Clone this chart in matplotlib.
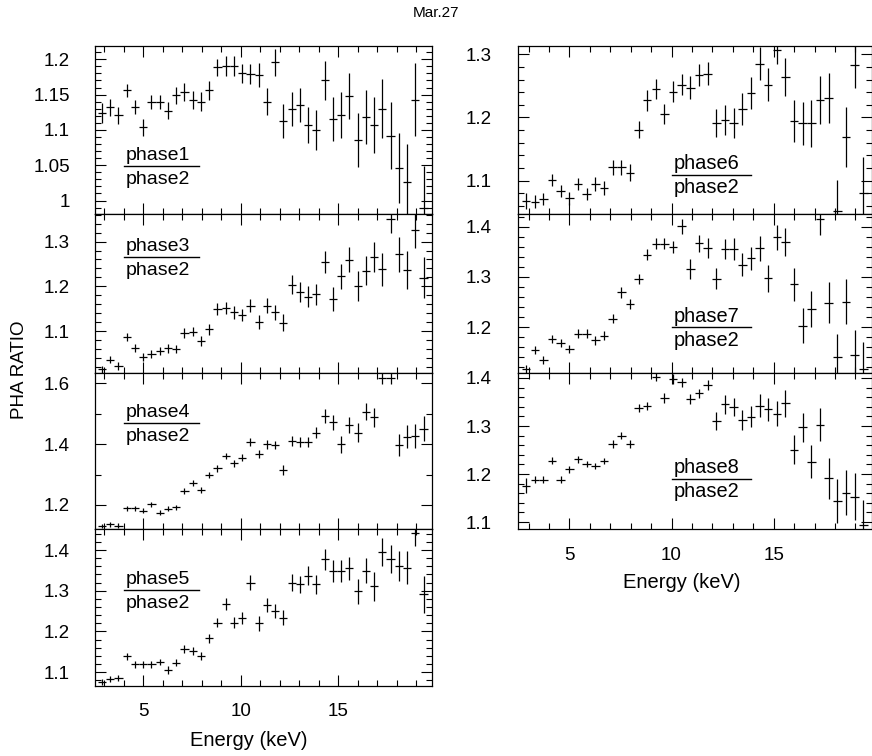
import matplotlib
matplotlib.use("Agg")
import matplotlib.pyplot as plt
from matplotlib.ticker import MultipleLocator, FuncFormatter
from matplotlib.lines import Line2D

plt.rcParams['font.family'] = ['Liberation Sans', 'DejaVu Sans']

# ---------------- data ----------------
energy = [2.885, 3.308, 3.731, 4.154, 4.577, 5.000, 5.423, 5.846, 6.269, 6.692,
          7.115, 7.538, 7.961, 8.384, 8.807, 9.230, 9.653, 10.076, 10.499, 10.922,
          11.345, 11.768, 12.191, 12.614, 13.037, 13.460, 13.883, 14.306, 14.729, 15.152,
          15.575, 15.998, 16.421, 16.844, 17.267, 17.690, 18.113, 18.536, 18.959, 19.382]
energy_halfwidth = 0.21

ratio1 = [1.124, 1.132, 1.121, 1.156, 1.133, 1.104, 1.139, 1.140, 1.127, 1.149,
          1.154, 1.142, 1.140, 1.156, 1.189, 1.191, 1.191, 1.180, 1.179, 1.178,
          1.140, 1.196, 1.112, 1.130, 1.135, 1.107, 1.100, 1.170, 1.115, 1.121,
          1.148, 1.086, 1.118, 1.107, 1.130, 1.092, 1.046, 1.026, 1.143, 0.989]
err1 = [0.014, 0.012, 0.012, 0.009, 0.010, 0.012, 0.010, 0.010, 0.012, 0.012,
        0.013, 0.013, 0.013, 0.013, 0.012, 0.014, 0.014, 0.014, 0.014, 0.017,
        0.019, 0.019, 0.024, 0.024, 0.024, 0.026, 0.028, 0.028, 0.031, 0.033,
        0.033, 0.038, 0.038, 0.040, 0.042, 0.047, 0.050, 0.054, 0.052, 0.060]

ratio3 = [1.015, 1.036, 1.022, 1.086, 1.063, 1.043, 1.048, 1.056, 1.062, 1.060,
          1.095, 1.099, 1.078, 1.104, 1.149, 1.151, 1.142, 1.136, 1.157, 1.121,
          1.157, 1.142, 1.119, 1.204, 1.188, 1.177, 1.182, 1.255, 1.172, 1.222,
          1.259, 1.201, 1.235, 1.265, 1.238, 1.350, 1.272, 1.236, 1.326, 1.219]
err3 = [0.008, 0.008, 0.008, 0.009, 0.009, 0.009, 0.009, 0.009, 0.010, 0.010,
        0.011, 0.011, 0.011, 0.012, 0.013, 0.013, 0.014, 0.014, 0.015, 0.016,
        0.016, 0.017, 0.019, 0.022, 0.022, 0.023, 0.023, 0.025, 0.026, 0.028,
        0.028, 0.034, 0.033, 0.033, 0.037, 0.030, 0.039, 0.043, 0.041, 0.046]

ratio4 = [1.131, 1.136, 1.132, 1.189, 1.189, 1.181, 1.202, 1.175, 1.187, 1.192,
          1.246, 1.271, 1.249, 1.299, 1.321, 1.361, 1.337, 1.356, 1.408, 1.367,
          1.399, 1.397, 1.315, 1.410, 1.408, 1.408, 1.438, 1.493, 1.472, 1.399,
          1.463, 1.438, 1.507, 1.488, 1.619, 1.619, 1.397, 1.425, 1.427, 1.450]
err4 = [0.008, 0.008, 0.008, 0.008, 0.008, 0.008, 0.008, 0.008, 0.008, 0.009,
        0.009, 0.010, 0.010, 0.010, 0.011, 0.011, 0.012, 0.012, 0.013, 0.013,
        0.014, 0.014, 0.015, 0.016, 0.016, 0.017, 0.019, 0.024, 0.024, 0.027,
        0.027, 0.030, 0.027, 0.030, 0.022, 0.022, 0.036, 0.038, 0.038, 0.041]

ratio5 = [1.076, 1.083, 1.086, 1.139, 1.119, 1.119, 1.119, 1.125, 1.105, 1.123,
          1.157, 1.152, 1.139, 1.183, 1.222, 1.267, 1.222, 1.234, 1.320, 1.220,
          1.265, 1.250, 1.234, 1.320, 1.316, 1.337, 1.316, 1.377, 1.349, 1.349,
          1.355, 1.299, 1.349, 1.311, 1.396, 1.378, 1.361, 1.357, 1.441, 1.291]
err5 = [0.007, 0.007, 0.007, 0.008, 0.008, 0.008, 0.008, 0.008, 0.009, 0.009,
        0.010, 0.010, 0.010, 0.011, 0.012, 0.014, 0.014, 0.015, 0.018, 0.018,
        0.018, 0.018, 0.019, 0.021, 0.021, 0.023, 0.023, 0.025, 0.027, 0.027,
        0.029, 0.031, 0.031, 0.035, 0.034, 0.035, 0.037, 0.041, 0.030, 0.045]

ratio6 = [1.068, 1.067, 1.071, 1.101, 1.084, 1.072, 1.095, 1.079, 1.095, 1.088,
          1.121, 1.121, 1.113, 1.181, 1.227, 1.245, 1.205, 1.241, 1.252, 1.247,
          1.267, 1.269, 1.191, 1.196, 1.191, 1.213, 1.239, 1.285, 1.252, 1.306,
          1.264, 1.194, 1.191, 1.191, 1.228, 1.231, 1.052, 1.169, 1.283, 1.081]
err6 = [0.012, 0.010, 0.010, 0.010, 0.010, 0.010, 0.010, 0.010, 0.011, 0.011,
        0.012, 0.012, 0.013, 0.014, 0.016, 0.016, 0.016, 0.017, 0.017, 0.018,
        0.017, 0.018, 0.022, 0.023, 0.024, 0.025, 0.025, 0.026, 0.026, 0.021,
        0.030, 0.033, 0.034, 0.037, 0.038, 0.040, 0.049, 0.047, 0.037, 0.057]

ratio7 = [1.116, 1.154, 1.134, 1.177, 1.169, 1.156, 1.187, 1.187, 1.174, 1.183,
          1.217, 1.269, 1.247, 1.296, 1.344, 1.366, 1.366, 1.359, 1.401, 1.315,
          1.367, 1.357, 1.296, 1.355, 1.355, 1.324, 1.337, 1.357, 1.297, 1.379,
          1.369, 1.285, 1.203, 1.236, 1.415, 1.249, 1.141, 1.251, 1.145, 1.117]
err7 = [0.008, 0.008, 0.008, 0.008, 0.008, 0.008, 0.009, 0.009, 0.009, 0.009,
        0.009, 0.010, 0.010, 0.010, 0.011, 0.011, 0.011, 0.012, 0.015, 0.020,
        0.017, 0.020, 0.021, 0.020, 0.022, 0.023, 0.023, 0.025, 0.027, 0.025,
        0.028, 0.032, 0.035, 0.036, 0.031, 0.041, 0.045, 0.044, 0.050, 0.053]

ratio8 = [1.176, 1.188, 1.188, 1.228, 1.188, 1.210, 1.231, 1.221, 1.217, 1.227,
          1.262, 1.280, 1.263, 1.338, 1.342, 1.403, 1.358, 1.398, 1.391, 1.356,
          1.368, 1.385, 1.310, 1.345, 1.340, 1.313, 1.319, 1.342, 1.335, 1.326,
          1.347, 1.251, 1.297, 1.226, 1.303, 1.191, 1.144, 1.161, 1.153, 1.094]
err8 = [0.015, 0.007, 0.007, 0.007, 0.007, 0.007, 0.007, 0.007, 0.007, 0.007,
        0.008, 0.008, 0.008, 0.008, 0.008, 0.009, 0.010, 0.010, 0.010, 0.010,
        0.010, 0.011, 0.019, 0.019, 0.019, 0.021, 0.022, 0.024, 0.024, 0.026,
        0.028, 0.031, 0.031, 0.035, 0.035, 0.042, 0.045, 0.047, 0.049, 0.052]

numerators = ["phase1", "phase3", "phase4", "phase5", "phase6", "phase7", "phase8"]
denominator = "phase2"
title = "Mar.27"
xlabel = "Energy (keV)"
ylabel = "PHA RATIO"

# ---------------- layout ----------------
W, H = 872, 756
fig = plt.figure(figsize=(W / 100, H / 100), dpi=100)

rows = [(46, 214.3), (214.3, 372.7), (372.7, 529.3), (529.3, 686.0)]
cols = {"L": (94.5, 432.3), "R": (518.3, 872.4)}

# (ratio, err, col, row, ylim, major, minor, label-line y px)
panels = [
    (ratio1, err1, "L", 0, (0.9805, 1.2188), 0.05, 0.01, 165.7),
    (ratio3, err3, "L", 1, (1.007, 1.361), 0.1, 0.02, 256.7),
    (ratio4, err4, "L", 2, (1.120, 1.635), 0.2, 0.1, 422.7),
    (ratio5, err5, "L", 3, (1.066, 1.451), 0.1, 0.02, 590.0),
    (ratio6, err6, "R", 0, (1.047, 1.313), 0.1, 0.02, 175.0),
    (ratio7, err7, "R", 1, (1.109, 1.425), 0.1, 0.02, 327.3),
    (ratio8, err8, "R", 2, (1.085, 1.411), 0.1, 0.02, 479.0),
]
bottom_rows = {"L": 3, "R": 2}
label_x = {"L": (124.3, 199.3), "R": (672.3, 750.7)}

fmt = FuncFormatter(lambda v, p: f"{round(v, 6):g}")

for (vals, errs, col, row, ylim, major, minor, ly), num in zip(panels, numerators):
    x0, x1 = cols[col]
    y0, y1 = rows[row]
    ax = fig.add_axes([x0 / W, 1 - y1 / H, (x1 - x0) / W, (y1 - y0) / H])
    ax.errorbar(energy, vals, yerr=errs, xerr=energy_halfwidth, fmt="none",
                ecolor="black", elinewidth=0.9, capsize=0)
    ax.set_xlim(2.5, 19.83)
    ax.set_ylim(*ylim)
    ax.xaxis.set_major_locator(MultipleLocator(5))
    ax.xaxis.set_minor_locator(MultipleLocator(1))
    ax.yaxis.set_major_locator(MultipleLocator(major))
    ax.yaxis.set_minor_locator(MultipleLocator(minor))
    ax.yaxis.set_major_formatter(fmt)
    ax.tick_params(which="both", direction="in", top=True, right=True,
                   width=0.8, colors="black", labelsize=13.5)
    ax.tick_params(which="major", length=8)
    ax.tick_params(which="minor", length=4)
    ax.tick_params(axis="y", pad=17.6 if col == "L" else 19)
    ax.tick_params(axis="x", pad=12.5)
    if row != bottom_rows[col]:
        ax.tick_params(labelbottom=False)
    for sp in ax.spines.values():
        sp.set_linewidth(0.9)

    lx0, lx1 = label_x[col]
    fs = 14 if col == "L" else 14.4
    fig.text((lx0 + 1) / W, 1 - (ly - 5.7) / H, num, ha="left", va="baseline", fontsize=fs)
    fig.text((lx0 + 1) / W, 1 - (ly + 18.3) / H, denominator, ha="left", va="baseline", fontsize=fs)
    fig.add_artist(Line2D([lx0 / W, lx1 / W], [1 - ly / H, 1 - ly / H],
                          transform=fig.transFigure, color="black", lw=1.0))

fig.text(436 / W, 1 - 13 / H, title, ha="center", va="center", fontsize=11)
fig.text(249 / W, 1 - 740 / H, xlabel, ha="center", va="center", fontsize=14.5)
fig.text(681.7 / W, 1 - 583 / H, xlabel, ha="center", va="center", fontsize=14.5)
fig.text(20 / W, 1 - 370 / H, ylabel, ha="center", va="center", rotation=90, fontsize=13.5)

fig.savefig("out.png", dpi=100)
